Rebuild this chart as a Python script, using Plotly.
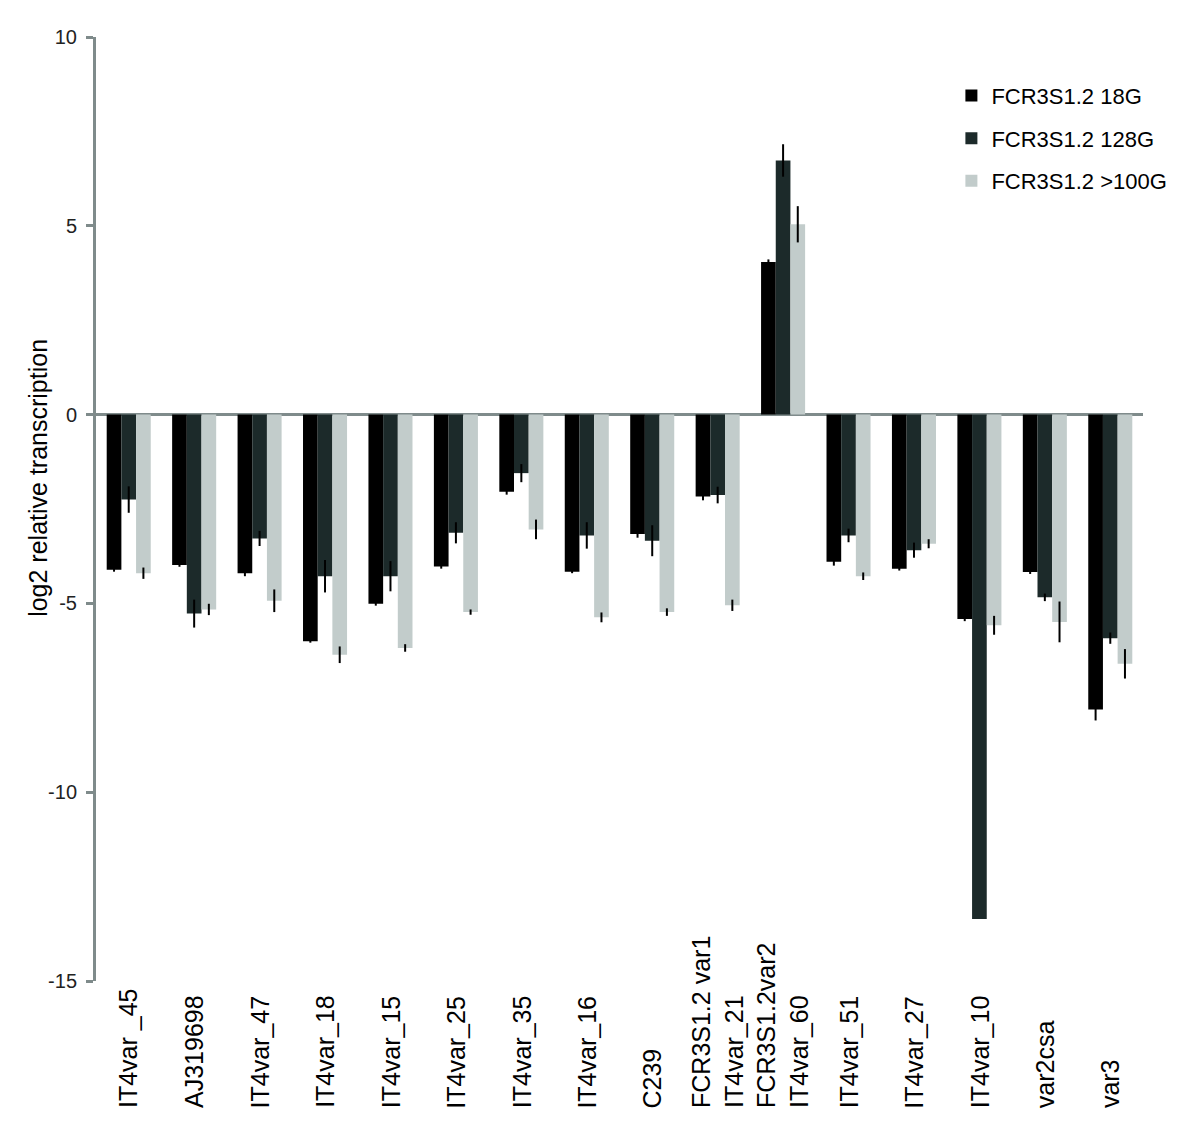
import plotly.graph_objects as go

# categorias (genes var) y valores log2
genes = [
    "IT4var _45", "AJ319698", "IT4var_47", "IT4var_18", "IT4var_15",
    "IT4var_25", "IT4var_35", "IT4var_16", "C239",
    "FCR3S1.2 var1<br>IT4var_21", "FCR3S1.2var2<br>IT4var_60",
    "IT4var_51", "IT4var_27", "IT4var_10", "var2csa", "var3",
]
series_names = ["FCR3S1.2 18G", "FCR3S1.2 128G", "FCR3S1.2 >100G"]

g18 = [-4.11, -3.98, -4.20, -6.00, -5.01, -4.02, -2.04, -4.16, -3.16, -2.17,
       4.04, -3.90, -4.08, -5.41, -4.17, -7.81]
g18_err = [0.05, 0.05, 0.08, 0.04, 0.05, 0.06, 0.08, 0.04, 0.10, 0.10,
           0.07, 0.10, 0.05, 0.06, 0.05, 0.29]
g128 = [-2.25, -5.27, -3.28, -4.28, -4.28, -3.13, -1.55, -3.20, -3.34, -2.13,
        6.73, -3.20, -3.59, -13.36, -4.84, -5.92]
g128_err = [0.35, 0.37, 0.20, 0.43, 0.40, 0.28, 0.24, 0.35, 0.41, 0.22,
            0.43, 0.18, 0.20, 0.0, 0.10, 0.15]
g100 = [-4.20, -5.16, -4.93, -6.36, -6.18, -5.23, -3.04, -5.37, -5.23, -5.05,
        5.04, -4.28, -3.42, -5.58, -5.49, -6.60]
g100_err = [0.15, 0.15, 0.30, 0.22, 0.10, 0.07, 0.26, 0.13, 0.10, 0.15,
            0.48, 0.10, 0.12, 0.25, 0.54, 0.39]

y_ticks = [-15, -10, -5, 0, 5, 10]
y_ticktext = ["-15", "-10", "-5", "0", "5", "10"]

colors = ["#000000", "#1c2a2a", "#c2cccb"]
axis_grey = "#7f8b8b"
font = "Liberation Sans, Arial, sans-serif"

fig = go.Figure()
for name, vals, errs, col in zip(series_names, [g18, g128, g100],
                                 [g18_err, g128_err, g100_err], colors):
    fig.add_trace(go.Bar(
        x=genes, y=vals, name=name, legendgroup=name,
        marker=dict(color=col, line=dict(width=0)),
        error_y=dict(type="data", array=errs, visible=True,
                     color="black", thickness=2, width=0),
    ))

# etiquetas de categoria alineadas abajo (rotadas)
for g in genes:
    fig.add_annotation(
        x=g, xref="x", y=-0.137, yref="paper",
        text=g, showarrow=False, textangle=-90,
        xanchor="center", yanchor="bottom", align="left",
        font=dict(family=font, size=25, color="black"),
    )

# titulo del eje y
fig.add_annotation(
    x=-0.0554, xref="paper", y=0.533, yref="paper",
    text="log2 relative transcription", showarrow=False, textangle=-90,
    xanchor="center", yanchor="middle",
    font=dict(family=font, size=25, color="black"),
)

# margenes compensan el margen de 8px del body en la pagina html
fig.update_layout(
    width=1200, height=1123,
    barmode="group", bargap=0.327, bargroupgap=0,
    plot_bgcolor="white", paper_bgcolor="white",
    margin=dict(l=88, r=65, t=29, b=150),
    font=dict(family=font, color="black"),
    legend=dict(
        x=0.817, y=0.96, xanchor="left", yanchor="top",
        font=dict(family=font, size=22), tracegroupgap=11,
        bgcolor="rgba(0,0,0,0)",
    ),
)
fig.update_xaxes(showticklabels=False, showline=False, showgrid=False,
                 ticks="", range=[-0.5, 15.5])
fig.update_yaxes(
    range=[-15, 10], tickvals=y_ticks, ticktext=y_ticktext, showgrid=False,
    showline=True, linecolor=axis_grey, linewidth=3,
    ticks="outside", ticklen=7, tickwidth=3, tickcolor=axis_grey,
    ticklabelstandoff=5,
    zeroline=True, zerolinecolor=axis_grey, zerolinewidth=3,
    tickfont=dict(family=font, size=20, color="#222222"),
)

fig.write_html("out.html")
